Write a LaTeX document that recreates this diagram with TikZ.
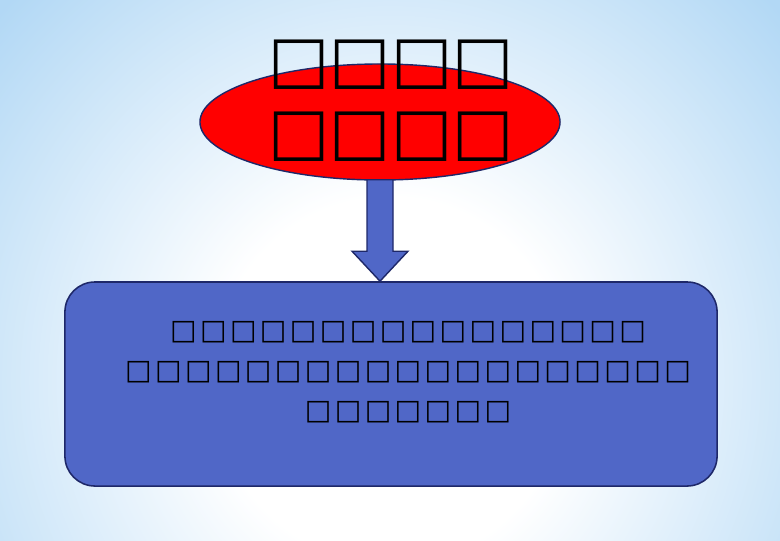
\documentclass[tikz,border=0pt]{standalone}
\usepackage{fontspec}
\usepackage{tikz}
\usetikzlibrary{shapes.geometric,calc}
\newfontfamily\boxfont{DejaVu Sans}
\newcommand\sq{\symbol{"25A1}}
\definecolor{bgblue}{RGB}{178,216,245}
\definecolor{panelblue}{RGB}{80,103,199}
\definecolor{edgenavy}{RGB}{30,40,105}
\pgfdeclareradialshading{slideglow}{\pgfpointorigin}{color(0bp)=(white); color(8bp)=(white); color(24bp)=(bgblue); color(100bp)=(bgblue)}
\tikzset{
  oval/.style={ellipse, fill=red, draw=edgenavy, line width=1pt, minimum width=9cm, minimum height=2.9cm, inner sep=0pt},
  panel/.style={rectangle, rounded corners=0.75cm, fill=panelblue, draw=edgenavy, line width=1.1pt, minimum width=16.3cm, minimum height=5.1cm},
  blockarrow/.style={fill=panelblue, draw=edgenavy, line width=1pt, line join=miter},
  headtext/.style={align=center, inner sep=0pt, font=\boxfont\bfseries\fontsize{46}{51}\selectfont},
  bodytext/.style={align=center, inner sep=0pt, font=\boxfont\fontsize{20}{28.4}\selectfont\addfontfeature{LetterSpace=12}}
}
\begin{document}
\begin{tikzpicture}[x=0.025cm, y=-0.025cm]
\useasboundingbox (0,0) rectangle (780,540);
%background
\begin{scope}
\clip (0,0) rectangle (780,540);
\shade[shading=slideglow] (-160,-190) rectangle (940,950);
\end{scope}
%shapes
\node[oval] (top) at (380,122) {};
\node[panel] (box) at (391,384) {};
\coordinate (tip) at (top.south |- box.north);
\draw[blockarrow] ($(top.south)+(-13,-1)$) -- ($(tip)+(-13,-30)$) -- ($(tip)+(-28,-30)$) -- (tip)
  -- ($(tip)+(28,-30)$) -- ($(tip)+(13,-30)$) -- ($(top.south)+(13,-1)$) -- cycle;
%text
\node[headtext] (heading) at (391,101) {\sq\sq\sq\sq\\\sq\sq\sq\sq};
\node[bodytext] (body) at (408,372)
  {\sq\sq\sq\sq\sq\sq\sq\sq\sq\sq\sq\sq\sq\sq\sq\sq\\
   \sq\sq\sq\sq\sq\sq\sq\sq\sq\sq\sq\sq\sq\sq\sq\sq\sq\sq\sq\\
   \sq\sq\sq\sq\sq\sq\sq};
\end{tikzpicture}
\end{document}
